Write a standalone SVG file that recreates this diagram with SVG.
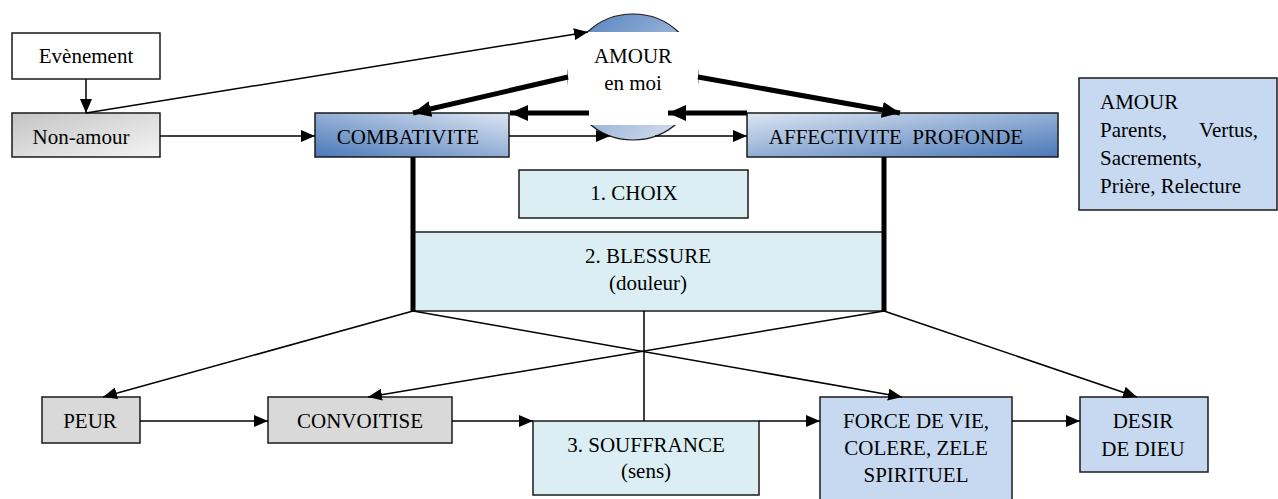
<svg xmlns="http://www.w3.org/2000/svg" width="1278" height="499" viewBox="0 0 1278 499">
<style>
text{font-family:"Liberation Serif","Times New Roman",serif;font-size:21px;fill:#000}
.c{text-anchor:middle}
.box{stroke:#1a1a1a;stroke-width:1.5}
.ln{stroke:#000;stroke-width:1.5;fill:none}
.tk{stroke:#000;stroke-width:5;fill:none}
</style>
<defs>
<marker id="a" markerWidth="14" markerHeight="12" refX="14" refY="6" orient="auto" markerUnits="userSpaceOnUse"><path d="M0,0 L14,6 L0,12 z" fill="#000"/></marker>
<marker id="b" markerWidth="18" markerHeight="16" refX="18" refY="8" orient="auto" markerUnits="userSpaceOnUse"><path d="M0,0 L18,8 L0,16 z" fill="#000"/></marker>
<linearGradient id="gGray" x1="0" y1="0" x2="1" y2="1"><stop offset="0" stop-color="#c4c4c4"/><stop offset="1" stop-color="#f4f4f4"/></linearGradient>
<linearGradient id="gComb" x1="0" y1="1" x2="1" y2="0"><stop offset="0" stop-color="#4a78b8"/><stop offset="1" stop-color="#dce6f2"/></linearGradient>
<linearGradient id="gAff" x1="0" y1="0" x2="1" y2="1"><stop offset="0" stop-color="#dce6f2"/><stop offset="1" stop-color="#4a78b8"/></linearGradient>
<linearGradient id="gCirc" x1="0" y1="0" x2="1" y2="1"><stop offset="0" stop-color="#4f7dbd"/><stop offset="1" stop-color="#e0e8f3"/></linearGradient>
</defs>

<g id="evenement"><rect class="box" x="12" y="33" width="148" height="46" fill="#fff"/><text class="c" x="86" y="63">Evènement</text></g>
<g id="non-amour"><rect class="box" x="12" y="113" width="148" height="44" fill="url(#gGray)"/><text class="c" x="81" y="144">Non-amour</text></g>
<g id="amour-en-moi"><ellipse cx="633" cy="77" rx="65" ry="63" fill="url(#gCirc)" stroke="#1a1a1a" stroke-width="1.2"/><rect x="568" y="32" width="130" height="93" fill="#fff"/><text class="c" x="633" y="63">AMOUR</text><text class="c" x="633" y="90">en moi</text></g>
<g id="combativite"><rect class="box" x="315" y="113" width="194" height="44" fill="url(#gComb)"/><text class="c" x="408" y="144">COMBATIVITE</text></g>
<g id="affectivite"><rect class="box" x="747" y="113" width="311" height="44" fill="url(#gAff)"/><text class="c" x="896" y="144">AFFECTIVITE &#160;PROFONDE</text></g>
<g id="amour-box"><rect class="box" x="1079" y="78" width="198" height="132" fill="#c6d9f1"/><text x="1100" y="109">AMOUR</text><text x="1100" y="137">Parents,<tspan x="1258" text-anchor="end">Vertus,</tspan></text><text x="1100" y="165">Sacrements,</text><text x="1100" y="193">Prière, Relecture</text></g>
<g id="choix"><rect class="box" x="519" y="170" width="229" height="48" fill="#daeef3"/><text class="c" x="634" y="200">1. CHOIX</text></g>
<g id="blessure"><rect class="box" x="413" y="232" width="471" height="79" fill="#daeef3"/><text class="c" x="648" y="263">2. BLESSURE</text><text class="c" x="648" y="290">(douleur)</text></g>
<g id="peur"><rect class="box" x="42" y="397" width="98" height="46" fill="#d9d9d9"/><text class="c" x="90" y="428">PEUR</text></g>
<g id="convoitise"><rect class="box" x="268" y="397" width="184" height="46" fill="#d9d9d9"/><text class="c" x="360" y="428">CONVOITISE</text></g>
<g id="souffrance"><rect class="box" x="533" y="421" width="226" height="74" fill="#daeef3"/><text class="c" x="646" y="452">3. SOUFFRANCE</text><text class="c" x="646" y="478">(sens)</text></g>
<g id="force"><rect class="box" x="820" y="397" width="192" height="106" fill="#c6d9f1"/><text class="c" x="916" y="428">FORCE DE VIE,</text><text class="c" x="916" y="455">COLERE, ZELE</text><text class="c" x="916" y="482">SPIRITUEL</text></g>
<g id="desir"><rect class="box" x="1080" y="397" width="128" height="75" fill="#c6d9f1"/><text class="c" x="1143" y="428">DESIR</text><text class="c" x="1143" y="456">DE DIEU</text></g>

<g id="connectors">
<path class="ln" d="M86,79 L86,113" marker-end="url(#a)"/>
<path class="ln" d="M86,113 L588,32" marker-end="url(#a)"/>
<path class="ln" d="M160,136 L315,136" marker-end="url(#a)"/>
<path class="tk" d="M568,77 L413,113" marker-end="url(#b)"/>
<path class="tk" d="M698,77 L900,113" marker-end="url(#b)"/>
<path class="tk" d="M589,113 L510,113" marker-end="url(#b)"/>
<path class="tk" d="M747,113 L668,113" marker-end="url(#b)"/>
<path class="ln" d="M509,136 L610,136" marker-end="url(#a)"/>
<path class="ln" d="M655,136 L747,136" marker-end="url(#a)"/>
<path class="tk" d="M413,157 L413,311"/>
<path class="tk" d="M884,157 L884,311"/>
<path class="ln" d="M413,311 L103,397" marker-end="url(#a)"/>
<path class="ln" d="M413,311 L902,397" marker-end="url(#a)"/>
<path class="ln" d="M884,311 L368,397" marker-end="url(#a)"/>
<path class="ln" d="M884,311 L1137,397" marker-end="url(#a)"/>
<path class="ln" d="M644,311 L644,421"/>
<path class="ln" d="M140,421 L268,421" marker-end="url(#a)"/>
<path class="ln" d="M452,421 L533,421" marker-end="url(#a)"/>
<path class="ln" d="M759,421 L820,421" marker-end="url(#a)"/>
<path class="ln" d="M1012,421 L1080,421" marker-end="url(#a)"/>
</g>
</svg>
